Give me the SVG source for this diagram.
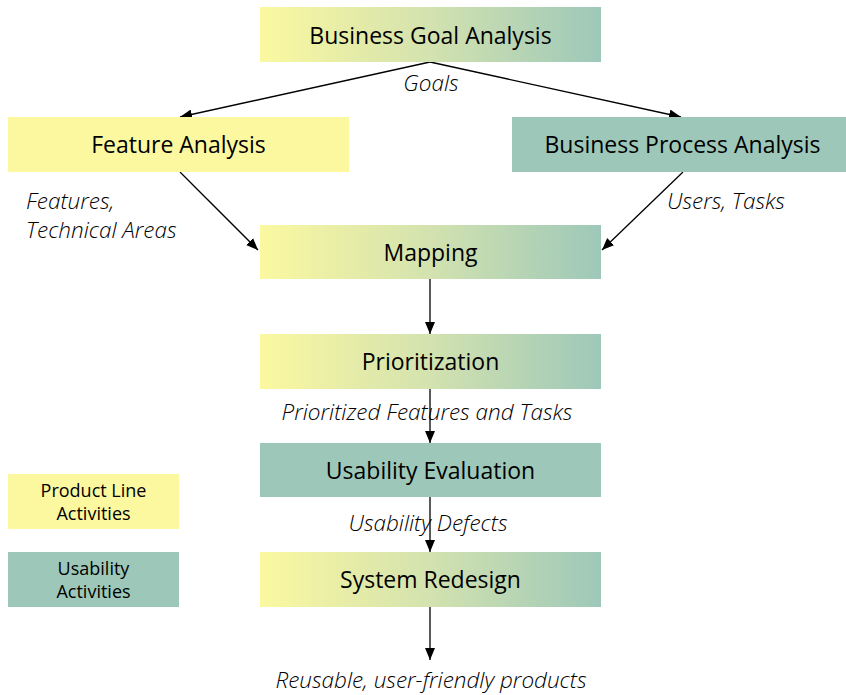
<svg xmlns="http://www.w3.org/2000/svg" width="846" height="695" viewBox="0 0 846 695">
<defs>
<linearGradient id="grad" x1="0" y1="0" x2="1" y2="0">
<stop offset="0" stop-color="#FBF8A0"/>
<stop offset="0.5" stop-color="#D3E2AF"/>
<stop offset="1" stop-color="#9DC8B9"/>
</linearGradient>
<marker id="arr" viewBox="0 0 12 10" refX="12" refY="5" markerWidth="12" markerHeight="10" markerUnits="userSpaceOnUse" orient="auto">
<path d="M0,0 L12,5 L0,10 z" fill="#000"/>
</marker>
</defs>
<style>
.g{fill:url(#grad)}
.y{fill:#FBF8A0}
.t{fill:#9DC8B9}
.lbl{font-family:"Open Sans","Noto Sans",sans-serif;font-size:23px;fill:#000;text-anchor:middle}
.leg{font-family:"Open Sans","Noto Sans",sans-serif;font-size:18px;fill:#000;text-anchor:middle}
.it{font-family:"Open Sans","Noto Sans",sans-serif;font-size:22.5px;font-style:italic;font-weight:300;fill:#000}
.c{stroke:#000;stroke-width:1.3;fill:none;marker-end:url(#arr)}
</style>
<rect width="846" height="695" fill="#fff"/>
<g id="connectors">
<line class="c" x1="430" y1="62" x2="180" y2="117"/>
<line class="c" x1="430" y1="62" x2="681" y2="117"/>
<line class="c" x1="180" y1="172" x2="258" y2="250"/>
<line class="c" x1="683" y1="172" x2="602" y2="250"/>
<line class="c" x1="430" y1="279" x2="430" y2="334"/>
<line class="c" x1="430" y1="389" x2="430" y2="443"/>
<line class="c" x1="430" y1="497" x2="430" y2="552"/>
<line class="c" x1="430" y1="607" x2="430" y2="660"/>
</g>
<g id="business-goal-analysis">
<rect class="g" x="260" y="7" width="341" height="55"/>
<text class="lbl" x="430.5" y="44">Business Goal Analysis</text>
</g>
<g id="feature-analysis">
<rect class="y" x="8" y="117" width="341" height="55"/>
<text class="lbl" x="178.5" y="153">Feature Analysis</text>
</g>
<g id="business-process-analysis">
<rect class="t" x="512" y="117" width="341" height="55"/>
<text class="lbl" x="682.5" y="153">Business Process Analysis</text>
</g>
<g id="mapping">
<rect class="g" x="260" y="225" width="341" height="54"/>
<text class="lbl" x="430.5" y="261">Mapping</text>
</g>
<g id="prioritization">
<rect class="g" x="260" y="334" width="341" height="55"/>
<text class="lbl" x="430.5" y="370">Prioritization</text>
</g>
<g id="usability-evaluation">
<rect class="t" x="260" y="443" width="341" height="54"/>
<text class="lbl" x="430.5" y="479">Usability Evaluation</text>
</g>
<g id="system-redesign">
<rect class="g" x="260" y="552" width="341" height="55"/>
<text class="lbl" x="430.5" y="588">System Redesign</text>
</g>
<g id="legend-product-line">
<rect class="y" x="8" y="474" width="171" height="55"/>
<text class="leg" x="93.5" y="497">Product Line</text>
<text class="leg" x="93.5" y="520">Activities</text>
</g>
<g id="legend-usability">
<rect class="t" x="8" y="552" width="171" height="55"/>
<text class="leg" x="93.5" y="575">Usability</text>
<text class="leg" x="93.5" y="598">Activities</text>
</g>
<g id="labels">
<text class="it" x="431" y="91" text-anchor="middle">Goals</text>
<text class="it" x="26" y="209">Features,</text>
<text class="it" x="26" y="238">Technical Areas</text>
<text class="it" x="667" y="209">Users, Tasks</text>
<text class="it" x="427" y="420" text-anchor="middle">Prioritized Features and Tasks</text>
<text class="it" x="428" y="531" text-anchor="middle">Usability Defects</text>
<text class="it" x="431" y="688" text-anchor="middle">Reusable, user-friendly products</text>
</g>
</svg>
